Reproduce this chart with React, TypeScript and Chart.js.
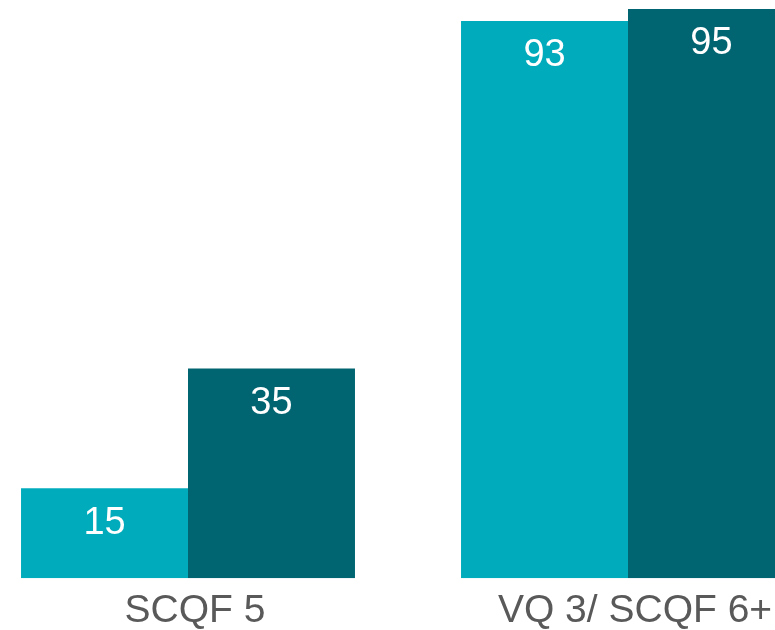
import React, { useEffect, useRef } from "react";
import { Chart, registerables } from "chart.js";

Chart.register(...registerables);

const categories = ["SCQF 5", "VQ 3/ SCQF 6+"];
const seriesA = [15, 93];
const seriesB = [35, 95];
const colorA = "#00ACBC";
const colorB = "#006571";
const FONT = "'Liberation Sans', Arial, sans-serif";

const valueLabels = {
  id: "valueLabels",
  afterDatasetsDraw(chart: any) {
    const ctx = chart.ctx;
    ctx.save();
    ctx.fillStyle = "#FFFFFF";
    ctx.font = `38px ${FONT}`;
    ctx.textAlign = "center";
    ctx.textBaseline = "middle";
    chart.data.datasets.forEach((ds: any, di: number) => {
      const meta = chart.getDatasetMeta(di);
      meta.data.forEach((bar: any, i: number) => {
        ctx.fillText(String(ds.data[i]), bar.x, bar.y + 35);
      });
    });
    ctx.restore();
  },
};

export default function App() {
  const ref = useRef<HTMLCanvasElement | null>(null);
  useEffect(() => {
    if (!ref.current) return;
    const chart = new Chart(ref.current, {
      type: "bar",
      data: {
        labels: categories,
        datasets: [
          { data: seriesA, backgroundColor: colorA, borderWidth: 0 },
          { data: seriesB, backgroundColor: colorB, borderWidth: 0 },
        ],
      },
      options: {
        responsive: false,
        animation: false,
        layout: { padding: 0 },
        datasets: { bar: { categoryPercentage: 0.759, barPercentage: 1 } },
        plugins: { legend: { display: false }, tooltip: { enabled: false } },
        scales: {
          x: {
            grid: { display: false, drawTicks: false },
            border: { display: false },
            ticks: {
              color: "#595959",
              font: { family: FONT, size: 39 },
              padding: 10,
              maxRotation: 0,
              autoSkip: false,
              labelOffset: 7,
            },
          },
          y: { display: false, min: 0, max: 100 },
        },
      },
      plugins: [valueLabels],
    });
    return () => chart.destroy();
  }, []);
  return (
    <div style={{ position: "fixed", left: 0, top: 0, width: 775, height: 630, overflow: "hidden", background: "#fff" }}>
      <div style={{ position: "absolute", left: -32, top: -21 }}>
        <canvas ref={ref} width={880} height={666} style={{ display: "block" }} />
      </div>
    </div>
  );
}
